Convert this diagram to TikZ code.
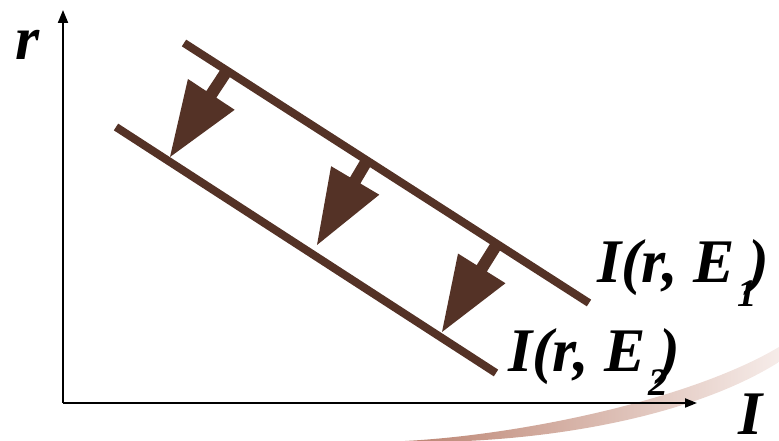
\documentclass[tikz,border=0pt]{standalone}
\usepackage{fontspec}
\setmainfont{Liberation Serif}
\usetikzlibrary{arrows.meta,calc}
\definecolor{lineb}{RGB}{84,50,38}
\definecolor{swL}{RGB}{188,132,114}
\definecolor{swR}{RGB}{246,236,233}
\tikzset{
  axis/.style={line width=2pt,-{Triangle[length=13pt,width=10pt]}},
  level/.style={line width=8pt,draw=lineb},
  lbl/.style={inner sep=0pt,anchor=base west,font=\fontsize{62}{70}\selectfont\bfseries\itshape},
}
\newcommand{\blockarrow}[2]{%
  \coordinate (bb) at ($(#2)!75pt!(#1)$);
  \fill[lineb] ($(#1)!6pt!90:(#2)$) -- ($(bb)!6pt!-90:(#1)$) -- ($(bb)!28pt!-90:(#1)$)
     -- (#2) -- ($(bb)!28pt!90:(#1)$) -- ($(bb)!6pt!90:(#1)$) -- ($(#1)!6pt!-90:(#2)$) -- cycle;
}
\newcommand{\sublbl}[1]{\kern2pt\raisebox{-24pt}{\fontsize{39}{44}\selectfont #1}\kern-8pt}
\begin{document}
\begin{tikzpicture}[x=1pt,y=1pt]
\useasboundingbox (0,0) rectangle (779,441);
\clip (0,0) rectangle (779,441);
% decorative swoosh
\shade[left color=swL,right color=swR]
  (405,0) .. controls (520,6) and (690,41) .. (779,94)
  -- (779,79) .. controls (690,23) and (540,-3) .. (405,-1) -- cycle;
% axes
\coordinate (O) at (63,38);
\coordinate (ytop) at (63,431);
\coordinate (xend) at (697,38);
\draw[axis] (O) -- (ytop);
\draw[axis,-{Triangle[length=12pt,width=9pt]}] (O) -- (xend);
\node[lbl] (rl) at (15,381) {r};
\node[lbl] (Il) at (738,6) {I};
% level lines
\coordinate (u1) at (184,398);
\coordinate (u2) at (589,138);
\coordinate (l1) at (116,314);
\coordinate (l2) at (496,68);
\draw[level] (u1) -- (u2);
\draw[level] (l1) -- (l2);
% arrows
\coordinate (s1) at (227,370.4); \coordinate (t1) at (170,284);
\coordinate (s2) at (367,280.5); \coordinate (t2) at (317,196);
\coordinate (s3) at (497,197);   \coordinate (t3) at (442,109);
\blockarrow{s1}{t1}
\blockarrow{s2}{t2}
\blockarrow{s3}{t3}
% labels
\node[lbl] (E1) at (597,158) {I(r, E\sublbl{1})};
\node[lbl] (E2) at (508,69) {I(r, E\sublbl{2})};
\end{tikzpicture}
\end{document}
